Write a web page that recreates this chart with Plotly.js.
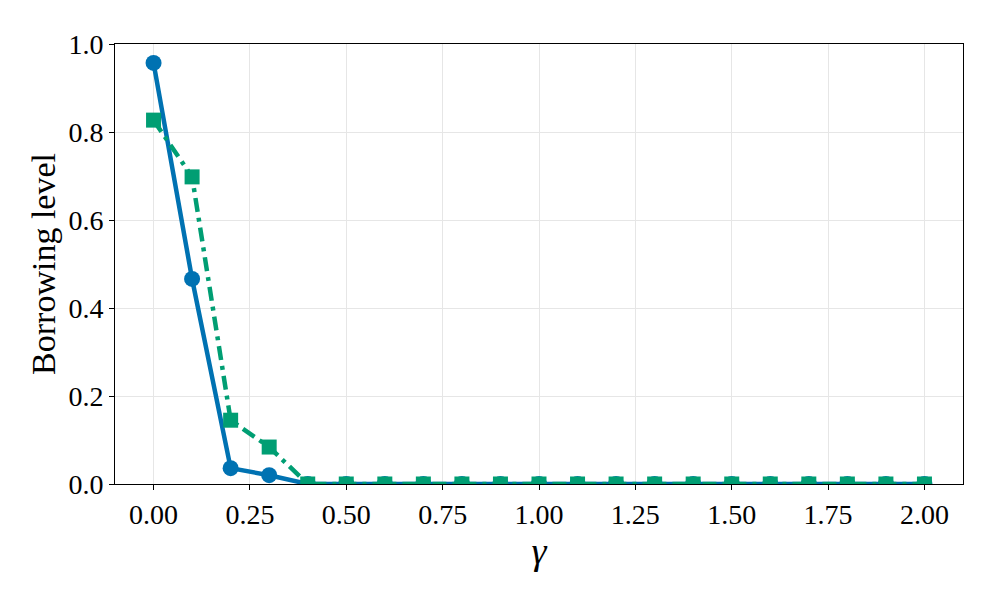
<!DOCTYPE html>
<html>
<head>
<meta charset="utf-8">
<script src="https://cdn.plot.ly/plotly-3.0.1.min.js"></script>
<style>html,body{margin:0;padding:0;background:#fff;}#chart{width:996px;height:590px;}</style>
</head>
<body>
<div id="chart"></div>
<script>
const gamma = [0.0,0.1,0.2,0.3,0.4,0.5,0.6,0.7,0.8,0.9,1.0,1.1,1.2,1.3,1.4,1.5,1.6,1.7,1.8,1.9,2.0];
const seriesBlue = [0.957,0.466,0.036,0.020,0,0,0,0,0,0,0,0,0,0,0,0,0,0,0,0,0];
const seriesGreen = [0.827,0.698,0.145,0.084,0,0,0,0,0,0,0,0,0,0,0,0,0,0,0,0,0];
const xTicks = [0,0.25,0.5,0.75,1.0,1.25,1.5,1.75,2.0];
const xTickLabels = ["0.00","0.25","0.50","0.75","1.00","1.25","1.50","1.75","2.00"];
const yTicks = [0,0.2,0.4,0.6,0.8,1.0];
const yTickLabels = ["0.0","0.2","0.4","0.6","0.8","1.0"];

const fontFam = "Liberation Serif";
const traces = [
  {x: gamma, y: seriesBlue, mode: 'lines+markers', line: {color: '#0072B2', width: 4.5},
   marker: {symbol: 'circle', size: 16, color: '#0072B2'}, showlegend: false},
  {x: gamma, y: seriesGreen, mode: 'lines+markers', line: {color: '#009E73', width: 4.5, dash: '14px,6px,4px,6px'},
   marker: {symbol: 'square', size: 15, color: '#009E73'}, showlegend: false}
];
const layout = {
  width: 996, height: 590,
  margin: {l: 115, r: 33, t: 44, b: 106},
  paper_bgcolor: '#fff', plot_bgcolor: '#fff',
  font: {family: fontFam, color: '#000', size: 28},
  xaxis: {range: [-0.1, 2.1], tickvals: xTicks, ticktext: xTickLabels,
    showgrid: true, gridcolor: '#e6e6e6', gridwidth: 1, zeroline: false,
    showline: true, linecolor: '#000', linewidth: 1, mirror: true,
    ticks: 'outside', ticklen: 5, tickcolor: '#000',
    tickfont: {family: fontFam, size: 28},
    title: {text: 'γ', font: {family: fontFam, size: 38, style: 'italic'}, standoff: 0}},
  yaxis: {range: [0, 1.0], tickvals: yTicks, ticktext: yTickLabels,
    showgrid: true, gridcolor: '#e6e6e6', gridwidth: 1, zeroline: false,
    showline: true, linecolor: '#000', linewidth: 1, mirror: true,
    ticks: 'outside', ticklen: 5, tickcolor: '#000',
    tickfont: {family: fontFam, size: 28},
    title: {text: 'Borrowing level', font: {family: fontFam, size: 34}, standoff: 2}}
};
Plotly.newPlot('chart', traces, layout, {displayModeBar: false, staticPlot: true});
</script>
</body>
</html>
